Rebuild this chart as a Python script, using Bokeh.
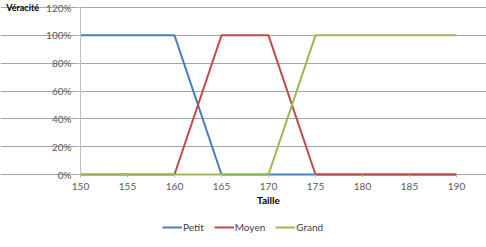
from bokeh.plotting import figure
from bokeh.models import Range1d, Legend, LegendItem, NumeralTickFormatter, FixedTicker
from bokeh.embed import file_html
from bokeh.resources import INLINE

taille = [150, 155, 160, 165, 170, 175, 180, 185, 190]
petit = [1, 1, 1, 0, 0, 0, 0, 0, 0]
moyen = [0, 0, 0, 1, 1, 0, 0, 0, 0]
grand = [0, 0, 0, 0, 0, 1, 1, 1, 1]
x_ticks = [150, 155, 160, 165, 170, 175, 180, 185, 190]
y_ticks = [0, 0.2, 0.4, 0.6, 0.8, 1.0, 1.2]

FONT = "Lato"
TXT = "#404040"

# frame covers the whole picture; axes sit at fixed data locations so no text is clipped
p = figure(frame_width=486, frame_height=247, output_backend="svg", toolbar_location=None,
           x_range=Range1d(141.4894, 193.1915), y_range=Range1d(-0.52455, 1.2503),
           min_border_left=0, min_border_right=0, min_border_top=0,
           min_border_bottom=0, outline_line_color=None)

p.xaxis.ticker = FixedTicker(ticks=x_ticks)
p.yaxis.ticker = FixedTicker(ticks=y_ticks)
p.yaxis.formatter = NumeralTickFormatter(format="0%")
p.yaxis.bounds = (0, 1.2)
p.xaxis.bounds = (150, 190)
p.xaxis.fixed_location = 0
p.yaxis.fixed_location = 150
for ax in (p.xaxis[0], p.yaxis[0]):
    ax.major_label_text_font = FONT
    ax.major_label_text_font_size = "10px"
    ax.major_label_text_color = "#595959"
    ax.axis_line_color = "#bfbfbf"
    ax.major_tick_line_color = "#bfbfbf"
    ax.major_tick_out = 3
    ax.major_tick_in = 0
    ax.minor_tick_line_color = None
p.xaxis.axis_line_color = None
p.xaxis.major_label_standoff = 5
p.yaxis.major_label_standoff = 6
p.xaxis.axis_label = "Taille"
p.xaxis.axis_label_text_font = FONT
p.xaxis.axis_label_text_font_size = "10px"
p.xaxis.axis_label_text_font_style = "bold"
p.xaxis.axis_label_text_color = "#000000"
p.xaxis.axis_label_standoff = 1

p.yaxis.axis_label = "Véracité"
p.yaxis.axis_label_text_font = FONT
p.yaxis.axis_label_text_font_size = "9px"
p.yaxis.axis_label_text_font_style = "bold"
p.yaxis.axis_label_text_color = "#000000"
p.yaxis.axis_label_orientation = "horizontal"
p.yaxis.axis_label_align = "end"
p.yaxis.axis_label_standoff = 4

p.xgrid.grid_line_color = None
p.ygrid.grid_line_color = "#a6a6a6"
p.ygrid.grid_line_width = 1
p.ygrid.bounds = (150, 190)

r1 = p.line(taille, petit, line_color="#4A7EBB", line_width=2)
r2 = p.line(taille, moyen, line_color="#BE4B48", line_width=2)
r3 = p.line(taille, grand, line_color="#98B954", line_width=2)

legend = Legend(items=[LegendItem(label="Petit", renderers=[r1]),
                       LegendItem(label="Moyen", renderers=[r2]),
                       LegendItem(label="Grand", renderers=[r3])],
                orientation="horizontal", location=(162, 14),
                glyph_width=20, glyph_height=12, label_standoff=1, spacing=10,
                padding=0, margin=0, label_height=12,
                label_text_font=FONT, label_text_font_size="10px",
                label_text_color=TXT, border_line_color=None,
                background_fill_alpha=0)
p.add_layout(legend)

open("out.html", "w").write(file_html(p, INLINE))
